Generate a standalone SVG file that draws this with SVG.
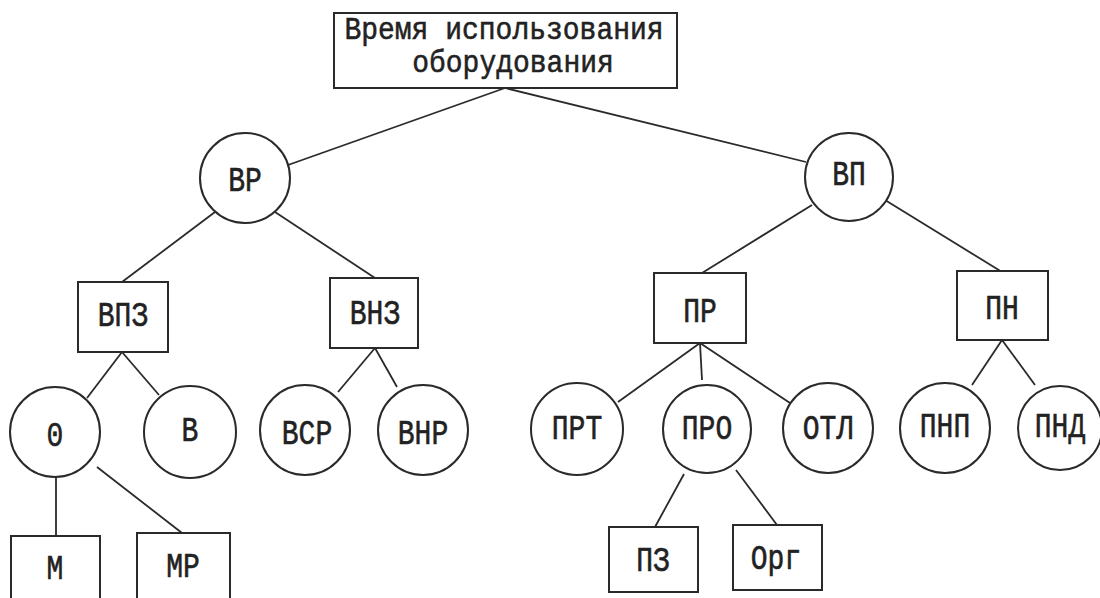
<svg xmlns="http://www.w3.org/2000/svg" width="1100" height="598" viewBox="0 0 1100 598">
<style>
.n{fill:#fff;stroke:#2a2a2a;stroke-width:2}
.c line{stroke:#2a2a2a;stroke-width:1.8}
text{font-family:"Liberation Mono","DejaVu Sans Mono",monospace;font-size:28px;fill:#222;stroke:#222;stroke-width:0.5;text-anchor:middle;dominant-baseline:central}
</style>
<rect width="1100" height="598" fill="#fff"/>
<g class="c" id="connectors">
<line x1="505" y1="88" x2="288" y2="165"/>
<line x1="505" y1="88" x2="806" y2="162"/>
<line x1="215" y1="212" x2="122" y2="282"/>
<line x1="275" y1="212" x2="375" y2="278"/>
<line x1="812" y1="205" x2="702" y2="273"/>
<line x1="885" y1="200" x2="1002" y2="272"/>
<line x1="122" y1="352" x2="87" y2="398"/>
<line x1="122" y1="352" x2="159" y2="395"/>
<line x1="375" y1="348" x2="338" y2="392"/>
<line x1="375" y1="348" x2="397" y2="387"/>
<line x1="700" y1="343" x2="618" y2="402"/>
<line x1="700" y1="343" x2="702" y2="380"/>
<line x1="700" y1="343" x2="790" y2="403"/>
<line x1="1002" y1="340" x2="972" y2="385"/>
<line x1="1002" y1="340" x2="1035" y2="385"/>
<line x1="56" y1="477" x2="56" y2="536"/>
<line x1="97" y1="467" x2="182" y2="533"/>
<line x1="684" y1="474" x2="655" y2="527"/>
<line x1="736" y1="470" x2="777" y2="525"/>
</g>
<g id="root"><rect class="n" x="334" y="13" width="343" height="75"/><text transform="translate(504 31) scale(1 1.1)">Время использования</text><text transform="translate(513 64) scale(1 1.1)">оборудования</text></g>
<g id="vr"><circle class="n" cx="245" cy="178" r="45"/><text transform="translate(245 182) scale(1 1.25)">ВР</text></g>
<g id="vp"><circle class="n" cx="849" cy="177" r="44"/><text transform="translate(849 176) scale(1 1.25)">ВП</text></g>
<g id="vpz"><rect class="n" x="78" y="282" width="90" height="70"/><text transform="translate(123 317) scale(1 1.25)">ВПЗ</text></g>
<g id="vnz"><rect class="n" x="330" y="278" width="88" height="70"/><text transform="translate(375 315) scale(1 1.25)">ВНЗ</text></g>
<g id="pr"><rect class="n" x="654" y="273" width="92" height="70"/><text transform="translate(700 313) scale(1 1.25)">ПР</text></g>
<g id="pn"><rect class="n" x="957" y="271" width="91" height="69"/><text transform="translate(1002 310) scale(1 1.25)">ПН</text></g>
<g id="o"><circle class="n" cx="55" cy="432" r="45"/><text transform="translate(55 437) scale(1 1.25)">0</text></g>
<g id="b"><circle class="n" cx="190" cy="432" r="46"/><text transform="translate(190 432) scale(1 1.25)">В</text></g>
<g id="vsr"><circle class="n" cx="305" cy="430" r="45"/><text transform="translate(307 435) scale(1 1.25)">ВСР</text></g>
<g id="vnr"><circle class="n" cx="423" cy="430" r="45"/><text transform="translate(423 435) scale(1 1.25)">ВНР</text></g>
<g id="prt"><circle class="n" cx="577" cy="429" r="46"/><text transform="translate(577 430) scale(1 1.25)">ПРТ</text></g>
<g id="pro"><circle class="n" cx="707" cy="429" r="44"/><text transform="translate(707 430) scale(1 1.25)">ПРО</text></g>
<g id="otl"><circle class="n" cx="828" cy="428" r="45"/><text transform="translate(828 430) scale(1 1.25)">ОТЛ</text></g>
<g id="pnp"><circle class="n" cx="945" cy="428" r="45"/><text transform="translate(945 428) scale(1 1.25)">ПНП</text></g>
<g id="pnd"><circle class="n" cx="1060" cy="428" r="42"/><text transform="translate(1060 428) scale(1 1.25)">ПНД</text></g>
<g id="m"><rect class="n" x="11" y="536" width="89" height="70"/><text transform="translate(55 570) scale(1 1.25)">М</text></g>
<g id="mr"><rect class="n" x="137" y="533" width="93" height="70"/><text transform="translate(183 568) scale(1 1.25)">МР</text></g>
<g id="pz"><rect class="n" x="609" y="527" width="89" height="65"/><text transform="translate(653 562) scale(1 1.25)">ПЗ</text></g>
<g id="org"><rect class="n" x="733" y="525" width="89" height="65"/><text transform="translate(776 560) scale(1 1.25)">Орг</text></g>
</svg>
